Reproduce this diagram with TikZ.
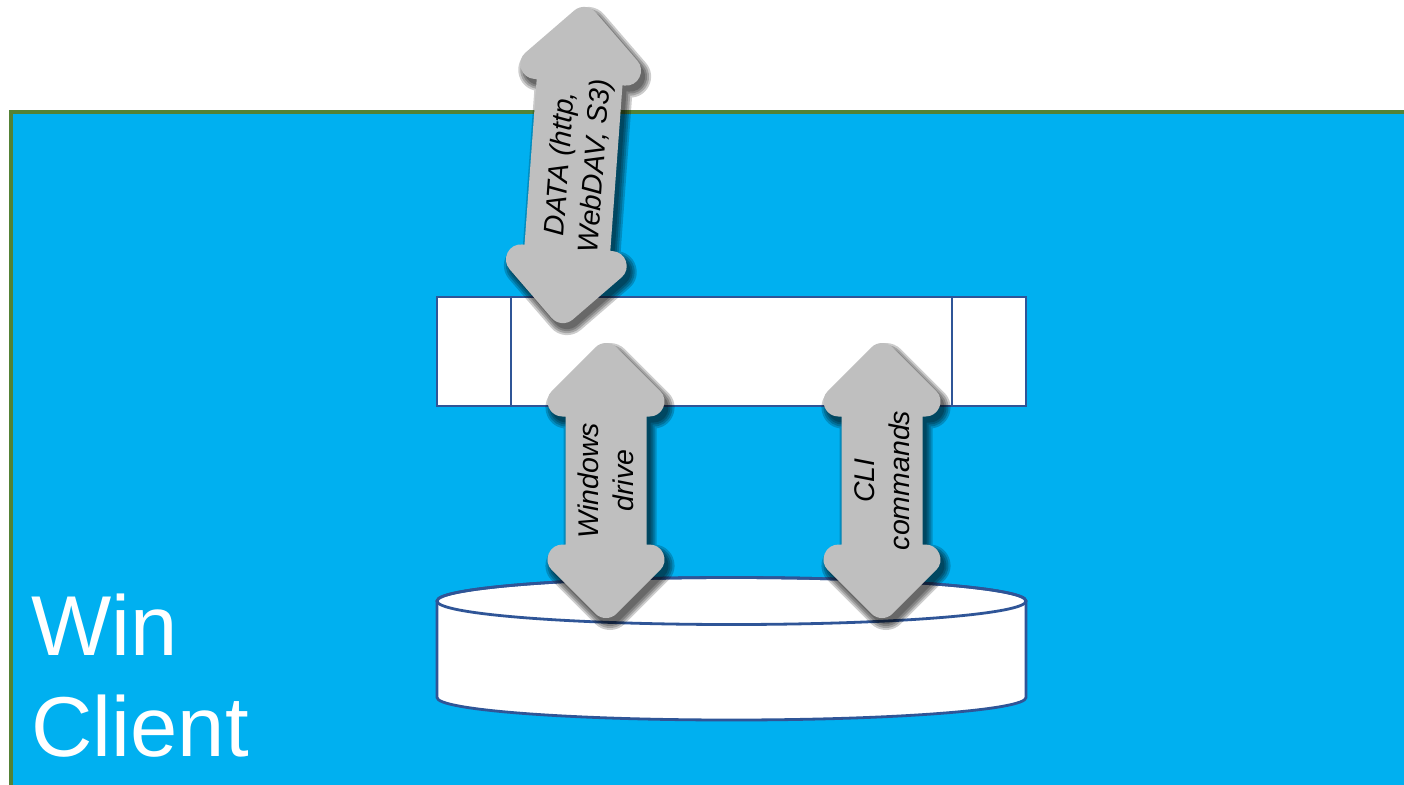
\documentclass[tikz,border=0pt]{standalone}
\usepackage{fontspec}
\newfontfamily\arialfont{Liberation Sans}
\definecolor{clientblue}{HTML}{00B0F0}
\definecolor{clientedge}{HTML}{548235}
\definecolor{boxedge}{HTML}{2F5597}
\definecolor{arrowgray}{HTML}{BFBFBF}
\newcommand{\udarrowpath}[3]{(0,-#1) -- (#2,-#1+#2) -- (#3,-#1+#2) -- (#3,#1-#2) -- (#2,#1-#2) -- (0,#1) -- (-#2,#1-#2) -- (-#3,#1-#2) -- (-#3,-#1+#2) -- (-#2,-#1+#2) -- cycle}
\tikzset{
  boxline/.style={draw=boxedge, line width=1.4pt},
  shadowlayer/.style={draw=black, fill=black, opacity=0.2, line join=round},
  arrowbody/.style={fill=arrowgray, draw=arrowgray, line width=15pt, line join=round},
  lbl/.style={font=\arialfont\itshape\fontsize{14.25pt}{17.5pt}\selectfont, align=center, inner sep=0pt, text=black},
  bigtext/.style={font=\arialfont\fontsize{42.5pt}{50.5pt}\selectfont, align=left, inner sep=0pt, text=white, anchor=north west}
}
\begin{document}
\begin{tikzpicture}[x=0.5pt,y=-0.5pt]
\useasboundingbox (0,0) rectangle (1404,784);
\clip (0,0) rectangle (1404,784);
\fill[white] (0,0) rectangle (1404,784);
% client area
\draw[fill=clientblue, draw=clientedge, line width=1.6pt] (11,112) coordinate (clientnw) rectangle (1430,810) coordinate (clientse);
% gateway box
\draw[boxline, fill=white] (437,297) coordinate (gwnw) rectangle (1026,406) coordinate (gwse);
\draw[boxline] (511,297) coordinate (gwa) -- (511,406);
\draw[boxline] (952,297) coordinate (gwb) -- (952,406);
% disk
\filldraw[boxline, fill=white] (437,601) coordinate (diskw) -- (437,697.5)
  arc[start angle=180, end angle=360, x radius=147.25pt, y radius=11.25pt]
  -- (1026,601) arc[start angle=0, end angle=180, x radius=147.25pt, y radius=11.75pt] -- cycle;
\draw[boxline] (731.5,601) coordinate (disktop) ellipse [x radius=147.25pt, y radius=11.75pt];
% arrows
\foreach \cx/\cy/\ang/\A/\H/\S in {573.5/165/-4.2/143.5/45.5/28, 606/480.5/0/122.5/43.5/25.5, 882/480.5/0/122.5/43.5/25.5}{
  \begin{scope}[shift={(\cx+4,\cy+6)}, rotate=\ang]
    \foreach \w in {21pt,19pt,17pt,15pt}
      \filldraw[shadowlayer, line width=\w] \udarrowpath{\A}{\H}{\S};
  \end{scope}
  \begin{scope}[shift={(\cx,\cy)}, rotate=\ang]
    \filldraw[arrowbody] \udarrowpath{\A}{\H}{\S};
  \end{scope}
}
\node[lbl, rotate=85.8] (tdata) at (579,165) {DATA (http,\\WebDAV, S3)};
\node[lbl, rotate=90] (twin) at (606,480.5) {Windows\\drive};
\node[lbl, rotate=90] (tcli) at (882,480.5) {CLI\\commands};
\node[bigtext] (client) at (31,593) {Win\\Client};
\end{tikzpicture}
\end{document}
